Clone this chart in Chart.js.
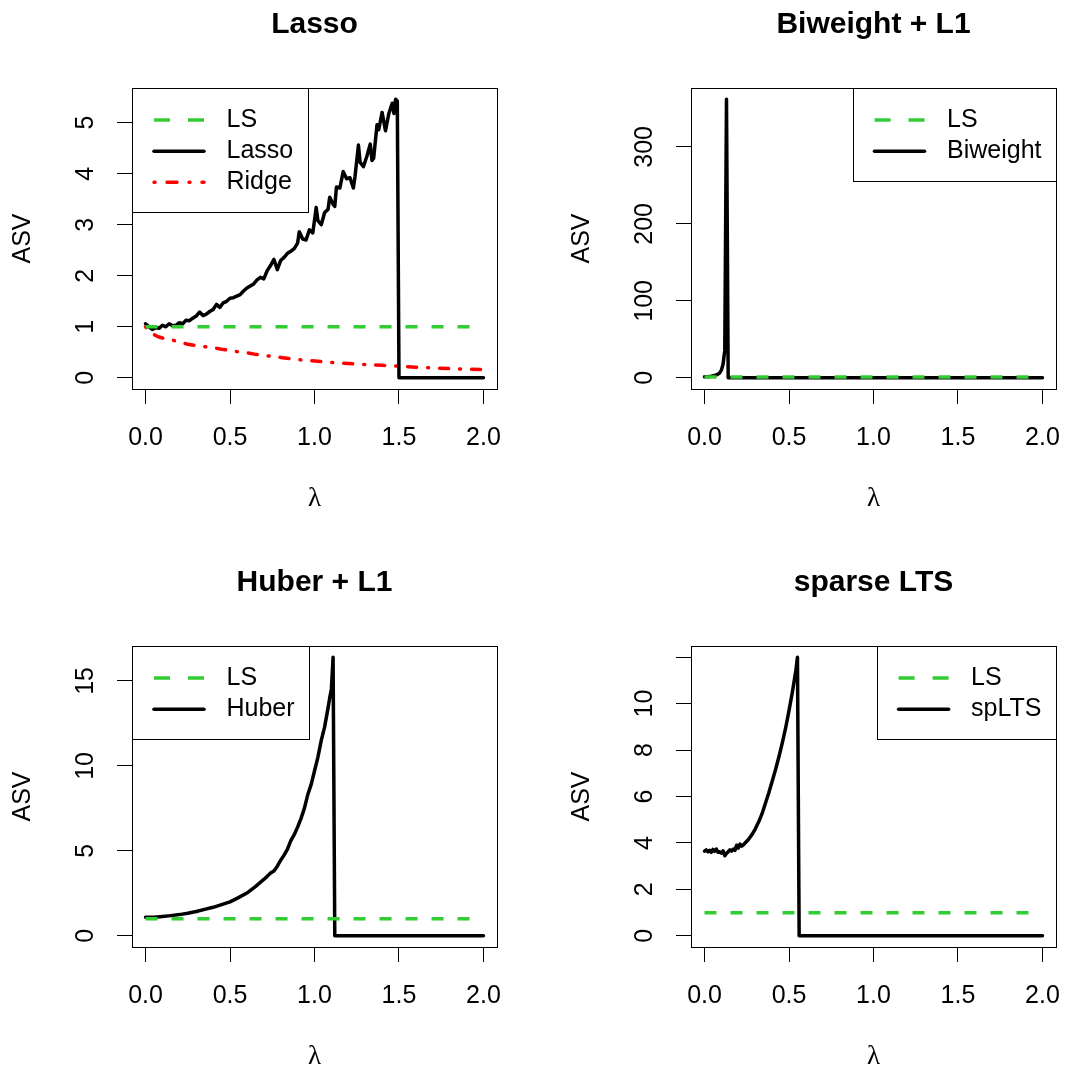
<!DOCTYPE html>
<html lang="en">
<head>
<meta charset="UTF-8">
<title>ASV as a function of lambda</title>
<script src="https://cdn.jsdelivr.net/npm/chart.js"></script>
<style>
    html, body { margin: 0; padding: 0; background: #fff; overflow: hidden; }
    body { width: 1065px; height: 1073px; position: relative; }
    canvas { position: absolute; }
</style>
</head>
<body>

<canvas id="lasso" width="507" height="515" style="left:0px;top:0px"></canvas>
<canvas id="biweight" width="507" height="515" style="left:559px;top:0px"></canvas>
<canvas id="huber" width="507" height="515" style="left:0px;top:558px"></canvas>
<canvas id="splts" width="507" height="515" style="left:559px;top:558px"></canvas>

<script>
    // x axis (lambda) shared by all panels
    const xTicks = [0, 0.5, 1, 1.5, 2];
    const xTickLabels = ['0.0', '0.5', '1.0', '1.5', '2.0'];

    // least squares reference, ASV = 1
    const lsLambda = [0, 2];
    const lsASV = [1, 1];

    // Lasso panel
    const lassoLambda = [0, .02, .04, .06, .08, .10, .12, .14, .16, .18,
        .20, .22, .24, .26, .28, .30, .32, .34, .36, .38,
        .40, .42, .44, .46, .48, .50, .52, .54, .56, .58,
        .60, .62, .64, .66, .68, .70, .72, .74, .76, .78,
        .80, .82, .84, .86, .88, .90, .91, .93, .95, .97,
        .99, 1.01, 1.02, 1.04, 1.06, 1.08, 1.09, 1.11, 1.12, 1.13,
        1.15, 1.17, 1.19, 1.21, 1.23, 1.24, 1.26, 1.27, 1.29, 1.31,
        1.33, 1.34, 1.35, 1.37, 1.38, 1.40, 1.42, 1.44, 1.46, 1.47,
        1.48, 1.49, 1.50, 2.00];
    const lassoASV = [1.06, 1.00, 0.95, 0.98, 0.97, 1.03, 1.00, 1.06, 1.02, 1.03,
        1.08, 1.06, 1.13, 1.12, 1.17, 1.21, 1.29, 1.22, 1.25, 1.30,
        1.34, 1.44, 1.38, 1.47, 1.50, 1.56, 1.57, 1.60, 1.63, 1.70,
        1.76, 1.80, 1.84, 1.92, 1.97, 1.94, 2.10, 2.20, 2.32, 2.12,
        2.30, 2.36, 2.44, 2.48, 2.53, 2.64, 2.86, 2.72, 2.70, 2.90,
        2.84, 3.34, 3.08, 3.00, 3.24, 3.30, 3.54, 3.40, 3.36, 3.74,
        3.72, 4.04, 3.90, 3.92, 3.72, 3.95, 4.56, 4.22, 4.14, 4.34,
        4.58, 4.26, 4.30, 4.96, 4.86, 5.20, 4.84, 5.18, 5.38, 5.18,
        5.46, 5.42, 0, 0];
    const ridgeLambda = [0, .02, .04, .06, .08, .10, .15, .20, .25, .30,
        .35, .40, .45, .50, .55, .60, .65, .70, .75, .80,
        .85, .90, .95, 1.00, 1.10, 1.20, 1.30, 1.40, 1.50, 1.60,
        1.70, 1.80, 1.90, 2.00];
    const ridgeASV = [1.00, 0.93, 0.87, 0.83, 0.80, 0.78, 0.75, 0.70, 0.66, 0.63,
        0.61, 0.59, 0.56, 0.54, 0.51, 0.49, 0.46, 0.44, 0.42, 0.40,
        0.38, 0.36, 0.34, 0.33, 0.30, 0.28, 0.26, 0.245, 0.23, 0.21,
        0.195, 0.18, 0.17, 0.165];
    const lassoYTicks = [0, 1, 2, 3, 4, 5];
    const lassoYLabels = ['0', '1', '2', '3', '4', '5'];

    // Biweight + L1 panel
    const bwLambda = [0, .02, .04, .06, .08, .09, .10, .11, .12, .13, .14, 2.00];
    const bwASV = [1.3, 1.5, 2.0, 3.0, 4.8, 6.5, 10, 18, 36, 362, 0, 0];
    const bwYTicks = [0, 100, 200, 300];
    const bwYLabels = ['0', '100', '200', '300'];

    // Huber + L1 panel
    const huberLambda = [0, .05, .10, .15, .20, .25, .30, .35, .40, .45,
        .50, .55, .60, .65, .70, .72, .74, .76, .78, .80,
        .82, .84, .86, .88, .90, .92, .94, .96, .98, 1.00,
        1.02, 1.04, 1.06, 1.08, 1.09, 1.10, 1.11, 1.12, 2.00];
    const huberASV = [1.10, 1.10, 1.14, 1.19, 1.25, 1.33, 1.43, 1.56, 1.68, 1.84,
        2.00, 2.25, 2.52, 2.90, 3.32, 3.50, 3.70, 3.82, 4.10, 4.45,
        4.75, 5.10, 5.60, 5.95, 6.40, 6.90, 7.50, 8.30, 8.90, 9.70,
        10.5, 11.5, 12.3, 13.4, 14.0, 14.5, 16.4, 0, 0];
    const huberYTicks = [0, 5, 10, 15];
    const huberYLabels = ['0', '5', '10', '15'];

    // sparse LTS panel
    const spltsLambda = [0, .01, .02, .03, .04, .05, .06, .07, .08, .09,
        .10, .11, .12, .13, .14, .15, .16, .17, .18, .19,
        .20, .21, .22, .23, .24, .26, .28, .30, .32, .34,
        .36, .38, .40, .42, .44, .46, .48, .50, .52, .54,
        .55, .56, 2.00];
    const spltsASV = [3.65, 3.70, 3.62, 3.68, 3.60, 3.72, 3.64, 3.74, 3.60, 3.62,
        3.56, 3.66, 3.45, 3.55, 3.62, 3.70, 3.65, 3.74, 3.68, 3.90,
        3.78, 3.95, 3.86, 3.92, 4.00, 4.15, 4.35, 4.60, 4.90, 5.25,
        5.70, 6.15, 6.65, 7.15, 7.70, 8.30, 8.95, 9.70, 10.5, 11.4,
        12.0, 0, 0];
    const spltsYTicks = [0, 2, 4, 6, 8, 10, 12];
    const spltsYLabels = ['0', '2', '4', '6', '8', '10', ''];

    const GREEN = '#33cc33';
    const SANS = '"Liberation Sans", Arial, Helvetica, sans-serif';

    function pts(xs, ys) {
        return xs.map((x, i) => ({ x: x, y: ys[i] }));
    }

    function lsSet() {
        return { label: 'LS', data: pts(lsLambda, lsASV), borderColor: GREEN,
            borderWidth: 3.5, borderDash: [12, 14], legendDash: [16, 18] };
    }
    function blackSet(label, xs, ys) {
        return { label: label, data: pts(xs, ys), borderColor: '#000',
            borderWidth: 3.5, borderJoinStyle: 'round', borderCapStyle: 'round' };
    }

    // R style frame, rotated y labels, titles and legend
    const rFrame = {
        id: 'rframe',
        afterDraw(chart, args, o) {
            const ctx = chart.ctx, a = chart.chartArea, ys = chart.scales.y;
            const cx = (a.left + a.right) / 2;
            ctx.save();
            ctx.strokeStyle = '#000';
            ctx.lineWidth = 1;
            ctx.strokeRect(Math.round(a.left) + 0.5, Math.round(a.top) + 0.5,
                Math.round(a.right - a.left), Math.round(a.bottom - a.top));

            ctx.fillStyle = '#000';
            ctx.textAlign = 'center';
            ctx.textBaseline = 'middle';
            ctx.font = '25px ' + SANS;
            o.yTicks.forEach((v, i) => {
                if (!o.yLabels[i]) return;
                ctx.save();
                ctx.translate(a.left - 45.5, ys.getPixelForValue(v));
                ctx.rotate(-Math.PI / 2);
                ctx.fillText(o.yLabels[i], 0, 0);
                ctx.restore();
            });
            ctx.save();
            ctx.translate(a.left - 108.5, (a.top + a.bottom) / 2);
            ctx.rotate(-Math.PI / 2);
            ctx.fillText('ASV', 0, 0);
            ctx.restore();

            ctx.font = '27px "Liberation Serif", "DejaVu Serif", serif';
            ctx.fillText('\u03bb', cx, a.bottom + 110);

            ctx.font = 'bold 30px ' + SANS;
            ctx.fillText(o.title, cx, a.top - 63);

            // legend box
            ctx.font = '25px ' + SANS;
            const sets = chart.data.datasets;
            const tw = Math.max(...sets.map(d => ctx.measureText(d.label).width));
            const w = 94.5 + tw + 14.5;
            const h = (sets.length + 1) * 31.1;
            const lx = o.legendRight ? a.right - w : a.left;
            const ly = a.top;
            ctx.strokeRect(Math.round(lx) + 0.5, Math.round(ly) + 0.5, Math.round(w), Math.round(h));
            ctx.textAlign = 'left';
            sets.forEach((d, i) => {
                const y = ly + 31.1 * (i + 1) + 1;
                ctx.save();
                ctx.strokeStyle = d.borderColor;
                ctx.lineWidth = d.borderWidth;
                ctx.lineCap = d.borderCapStyle || 'butt';
                ctx.setLineDash(d.legendDash || d.borderDash || []);
                ctx.beginPath();
                ctx.moveTo(lx + 22, y);
                ctx.lineTo(lx + 72, y);
                ctx.stroke();
                ctx.restore();
                ctx.fillText(d.label, lx + 94.5, y);
            });
            ctx.restore();
        }
    };

    function yRange(sets) {
        const all = sets.flatMap(d => d.data.map(p => p.y));
        const lo = Math.min(...all), hi = Math.max(...all);
        const pad = 0.04 * (hi - lo);
        return [lo - pad, hi + pad];
    }

    function makePanel(id, title, sets, yTicks, yLabels, legendRight) {
        const yr = yRange(sets);
        return new Chart(document.getElementById(id), {
            type: 'line',
            data: { datasets: sets },
            plugins: [rFrame],
            options: {
                responsive: false,
                animation: false,
                devicePixelRatio: 1,
                layout: { padding: { top: 88, right: 10, left: 0, bottom: 0 } },
                elements: { point: { radius: 0 }, line: { tension: 0 } },
                plugins: {
                    legend: { display: false },
                    tooltip: { enabled: false },
                    rframe: { title: title, yTicks: yTicks, yLabels: yLabels, legendRight: legendRight }
                },
                scales: {
                    x: {
                        type: 'linear', min: -0.08, max: 2.08,
                        afterBuildTicks: s => { s.ticks = xTicks.map(v => ({ value: v })); },
                        afterFit: s => { s.height = 126; s.paddingLeft = 0; s.paddingRight = 0; },
                        grid: { drawOnChartArea: false, drawTicks: true, tickLength: 15, color: '#000', lineWidth: 1 },
                        border: { display: false },
                        ticks: { color: '#000', padding: 19, maxRotation: 0, autoSkip: false,
                            font: { family: SANS, size: 25 },
                            callback: (v, i) => xTickLabels[i] }
                    },
                    y: {
                        type: 'linear', min: yr[0], max: yr[1],
                        afterBuildTicks: s => { s.ticks = yTicks.map(v => ({ value: v })); },
                        afterFit: s => { s.width = 132; s.paddingTop = 0; s.paddingBottom = 0; },
                        grid: { drawOnChartArea: false, drawTicks: true, tickLength: 15, color: '#000', lineWidth: 1 },
                        border: { display: false },
                        ticks: { display: false }
                    }
                }
            }
        });
    }

    makePanel('lasso', 'Lasso', [
        lsSet(),
        blackSet('Lasso', lassoLambda, lassoASV),
        { label: 'Ridge', data: pts(ridgeLambda, ridgeASV), borderColor: '#ff0000', borderWidth: 3.5,
          borderCapStyle: 'round', borderDash: [1, 11, 9, 11], legendDash: [1, 12, 10, 12] }
    ], lassoYTicks, lassoYLabels, false);

    makePanel('biweight', 'Biweight + L1', [
        lsSet(),
        blackSet('Biweight', bwLambda, bwASV)
    ], bwYTicks, bwYLabels, true);

    makePanel('huber', 'Huber + L1', [
        lsSet(),
        blackSet('Huber', huberLambda, huberASV)
    ], huberYTicks, huberYLabels, false);

    makePanel('splts', 'sparse LTS', [
        lsSet(),
        blackSet('spLTS', spltsLambda, spltsASV)
    ], spltsYTicks, spltsYLabels, true);
</script>

</body>
</html>
